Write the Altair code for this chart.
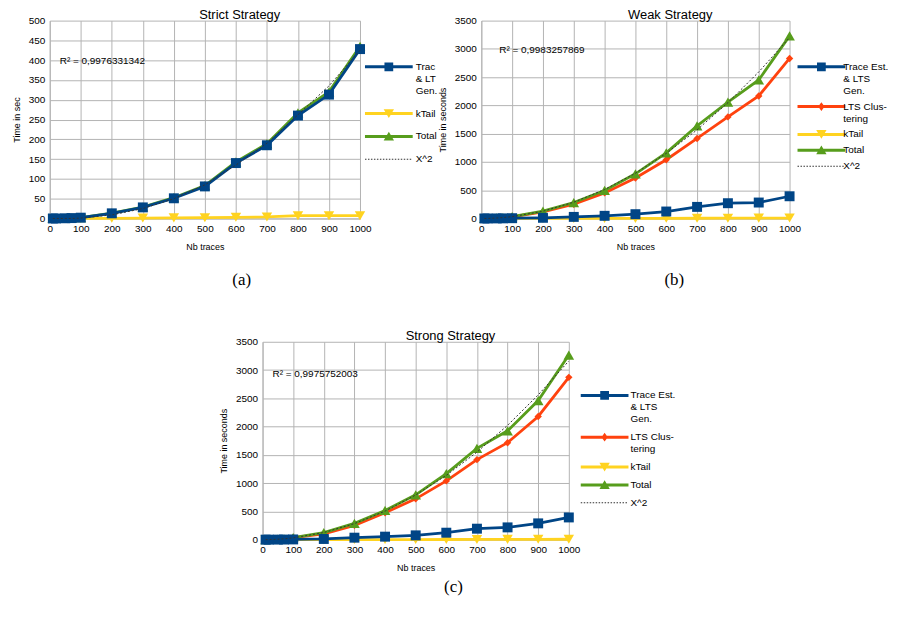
import altair as alt
import pandas as pd

# ---------------- data ----------------
X_TRACES = [10, 20, 50, 70, 100, 200, 300, 400, 500, 600, 700, 800, 900, 1000]

STRICT_TRACE = [0, 0, 0.5, 1, 2, 13, 28, 51, 81, 140, 185, 260, 313, 428]
STRICT_KTAIL = [0, 0, 0, 0, 0, 0.5, 1, 1.5, 2, 3, 4, 7, 7, 7]
STRICT_TOTAL = [0, 0, 0.5, 1, 2, 13.5, 29, 52.5, 83, 143, 189, 267, 320, 435]
STRICT_X2 = [0, 0, 0, 0, 1, 9, 25, 50, 85, 135, 190, 262, 335, 425]

WEAK_TRACE = [0, 0, 1, 2, 5, 12, 28, 47, 76, 123, 205, 270, 282, 393]
WEAK_LTS = [1, 3, 8, 12, 30, 117, 252, 452, 716, 1039, 1415, 1797, 2167, 2830]
WEAK_KTAIL = [0, 0, 0, 0, 0, 0.5, 1, 1.5, 2, 3, 4, 5, 6, 7]
WEAK_TOTAL = [1, 3, 9, 14, 35, 129, 282, 495, 790, 1160, 1638, 2060, 2450, 3230]
WEAK_X2 = [0, 1, 8, 16, 32, 128, 288, 512, 800, 1152, 1568, 2048, 2592, 3200]

STRONG_TRACE = [0, 0, 1, 2, 4, 12, 35, 53, 76, 123, 194, 217, 288, 393]
STRONG_LTS = [1, 3, 8, 12, 35, 100, 252, 476, 722, 1039, 1415, 1715, 2179, 2871]
STRONG_KTAIL = [0, 0, 0, 0, 0, 0.5, 1, 1.5, 2, 3, 4, 5, 6, 7]
STRONG_TOTAL = [1, 3, 9, 14, 38, 123, 288, 517, 793, 1169, 1615, 1926, 2460, 3265]
STRONG_X2 = [0, 1, 8, 15, 31, 126, 284, 505, 790, 1137, 1548, 2022, 2560, 3160]

TITLES = ["Strict Strategy", "Weak Strategy", "Strong Strategy"]
Y_TITLES = ["Time in sec", "Time in seconds", "Time in seconds"]
R2_TEXTS = ["R² = 0,9976331342", "R² = 0,9983257869", "R² = 0,9975752003"]
CAPTIONS = ["(a)", "(b)", "(c)"]
X_TICKS = [0, 100, 200, 300, 400, 500, 600, 700, 800, 900, 1000]
Y_TICKS_STRICT = [0, 50, 100, 150, 200, 250, 300, 350, 400, 450, 500]
Y_TICKS_OTHER = [0, 500, 1000, 1500, 2000, 2500, 3000, 3500]

NAME_TRACE_SHORT = "Trac|& LT|Gen."
NAME_TRACE = "Trace Est.|& LTS|Gen."
NAME_LTS = "LTS Clus-|tering"
NAME_KTAIL = "kTail"
NAME_TOTAL = "Total"
NAME_X2 = "X^2"

# ---------------- styling ----------------
FONT = "Liberation Sans"
BLUE, RED, YELLOW, GREEN, DOT = "#004586", "#ff420e", "#ffd320", "#579d1c", "#333333"
GRID = "#b3b3b3"


def rect(x1, y1, x2, y2):
    return f"M{x1},{y1}H{x2}V{y2}H{x1}Z"


LEG_LINE = rect(-6, -0.375, 6, 0.375)
LEG_MARK = {
    "square": rect(-1.1, -1.1, 1.1, 1.1),
    "diamond": "M0,-1.1L0.8,0L0,1.1L-0.8,0Z",
    "triangle-down": "M-1.3,-1.1L1.3,-1.1L0,1.1Z",
    "triangle-up": "M0,-1.2L1.3,1L-1.3,1Z",
}
LEG_DOTS = "".join(rect(round(-6 + i * 0.75, 3), -0.125, round(-6 + i * 0.75 + 0.375, 3), 0.125)
                   for i in range(16))

MARK_SIZE = {"square": 100, "diamond": 55, "triangle-down": 110, "triangle-up": 115}


def make_panel(idx, series, x2, ymax, yticks, width, legend_xy, label_offset, row_pad, r2_xy,
               draw_order, caption_xy):
    height = 199
    xenc = alt.X("x:Q", scale=alt.Scale(domain=[0, 1000], nice=False, zero=False),
                 axis=alt.Axis(values=X_TICKS, title="Nb traces", format="d",
                               labelFlush=False, labelOverlap=False, titlePadding=9))
    yenc = alt.Y("y:Q", scale=alt.Scale(domain=[0, ymax], nice=False),
                 axis=alt.Axis(values=yticks, title=Y_TITLES[idx], format="d",
                               labelFlush=False, labelOverlap=False, titlePadding=7))
    layers = []
    for i in draw_order:
        name, vals, color, marker = series[i]
        df = pd.DataFrame({"x": X_TRACES, "y": vals})
        base = alt.Chart(df).encode(x=xenc, y=yenc)
        layers.append(base.mark_line(color=color, strokeWidth=2.8))
        layers.append(base.mark_point(shape=marker, filled=True, color=color,
                                      size=MARK_SIZE[marker], opacity=1))
    dfx = pd.DataFrame({"x": X_TRACES, "y": x2})
    layers.append(alt.Chart(dfx).mark_line(color=DOT, strokeWidth=1, strokeDash=[2, 2])
                  .encode(x=xenc, y=yenc))

    # legend-only layer (invisible points) so legend symbols show line + marker
    names = [s[0] for s in series] + [NAME_X2]
    colors = [s[2] for s in series] + [DOT]
    paths = [LEG_LINE + LEG_MARK[s[3]] for s in series] + [LEG_DOTS]
    rows = []
    for name, vals, _, _ in series:
        rows += [{"x": xv, "y": yv, "s": name} for xv, yv in zip(X_TRACES, vals)]
    rows += [{"x": xv, "y": yv, "s": NAME_X2} for xv, yv in zip(X_TRACES, x2)]
    leg = alt.Legend(orient="none", legendX=legend_xy[0], legendY=legend_xy[1], title=None,
                     symbolSize=64, symbolStrokeWidth=0, symbolOpacity=1,
                     labelExpr="split(datum.label, '|')", labelFont=FONT, labelFontSize=10,
                     labelColor="#000", labelOffset=label_offset, labelBaseline="middle",
                     rowPadding=row_pad, padding=0, labelLimit=300)
    layers.append(
        alt.Chart(pd.DataFrame(rows)).mark_point(filled=True, opacity=0).encode(
            x=xenc, y=yenc,
            color=alt.Color("s:N", scale=alt.Scale(domain=names, range=colors), legend=leg),
            shape=alt.Shape("s:N", scale=alt.Scale(domain=names, range=paths), legend=leg),
        )
    )

    layers.append(
        alt.Chart(pd.DataFrame({"t": [R2_TEXTS[idx]]}))
        .mark_text(align="left", baseline="middle", font=FONT, fontSize=10, color="#000")
        .encode(x=alt.value(r2_xy[0]), y=alt.value(r2_xy[1]), text="t:N")
    )
    layers.append(
        alt.Chart(pd.DataFrame({"t": [CAPTIONS[idx]]}))
        .mark_text(align="center", baseline="middle", font="Liberation Serif", fontSize=17,
                   color="#000")
        .encode(x=alt.value(caption_xy[0]), y=alt.value(caption_xy[1]), text="t:N")
    )
    return alt.layer(*layers).properties(
        width=width, height=height,
        title=alt.TitleParams(TITLES[idx], dx=35),
    )


strict = make_panel(
    0,
    [(NAME_TRACE_SHORT, STRICT_TRACE, BLUE, "square"),
     (NAME_KTAIL, STRICT_KTAIL, YELLOW, "triangle-down"),
     (NAME_TOTAL, STRICT_TOTAL, GREEN, "triangle-up")],
    STRICT_X2, 500, Y_TICKS_STRICT, 312, (336, 41.5), 22, 13, (10, 40.5), [1, 2, 0],
    (193, 260.5),
)
weak = make_panel(
    1,
    [(NAME_TRACE, WEAK_TRACE, BLUE, "square"),
     (NAME_LTS, WEAK_LTS, RED, "diamond"),
     (NAME_KTAIL, WEAK_KTAIL, YELLOW, "triangle-down"),
     (NAME_TOTAL, WEAK_TOTAL, GREEN, "triangle-up")],
    WEAK_X2, 3500, Y_TICKS_OTHER, 310, (337, 41.5), 17, 6, (18, 29.5), [2, 1, 3, 0],
    (194, 260.5),
)
strong = make_panel(
    2,
    [(NAME_TRACE, STRONG_TRACE, BLUE, "square"),
     (NAME_LTS, STRONG_LTS, RED, "diamond"),
     (NAME_KTAIL, STRONG_KTAIL, YELLOW, "triangle-down"),
     (NAME_TOTAL, STRONG_TOTAL, GREEN, "triangle-up")],
    STRONG_X2, 3500, Y_TICKS_OTHER, 308, (339, 49), 21, 8, (10, 32), [2, 1, 3, 0],
    (192, 247),
)

top_row = alt.hconcat(strict, weak, spacing=122, bounds="flush").resolve_scale(
    color="independent", shape="independent")

chart = (
    alt.vconcat(top_row, strong, spacing=42, center=True)
    .resolve_scale(color="independent", shape="independent")
    .properties(padding={"left": 4, "top": -1, "right": 0, "bottom": 0})
    .configure_view(strokeWidth=0)
    .configure_axis(
        domainColor=GRID, gridColor=GRID, gridWidth=1, ticks=False,
        labelFont=FONT, labelFontSize=10, labelColor="#000", labelPadding=5,
        titleFont=FONT, titleFontSize=9, titleFontWeight="normal", titleColor="#000",
    )
    .configure_title(font=FONT, fontSize=13, fontWeight="normal", color="#000",
                     anchor="middle", frame="group", offset=-6)
)

chart.save("out.html", embed_options={"renderer": "svg", "actions": False})
